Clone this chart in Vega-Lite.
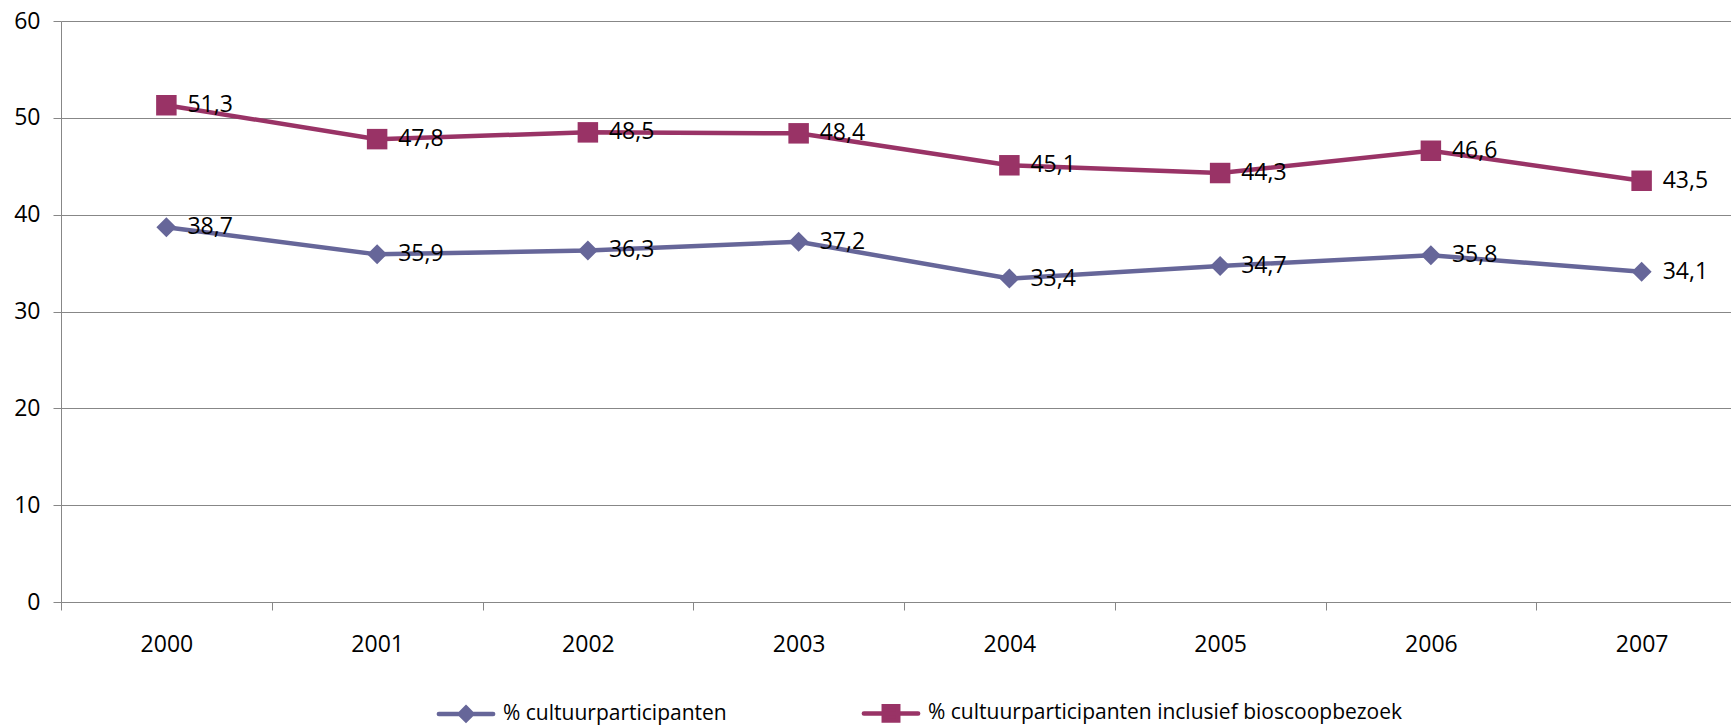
{
  "$schema": "https://vega.github.io/schema/vega-lite/v6.json",
  "autosize": {"type": "none"},
  "padding": {"left": 61, "top": 21, "right": 0, "bottom": 126},
  "width": 1670,
  "height": 581,
  "background": "white",
  "config": {
    "view": {"stroke": null},
    "locale": {"number": {"decimal": ",", "thousands": ".", "grouping": [3], "currency": ["€", ""]}},
    "font": "Open Sans"
  },
  "data": {
    "values": [
      {"year": "2000", "series": "% cultuurparticipanten", "value": 38.7},
      {"year": "2001", "series": "% cultuurparticipanten", "value": 35.9},
      {"year": "2002", "series": "% cultuurparticipanten", "value": 36.3},
      {"year": "2003", "series": "% cultuurparticipanten", "value": 37.2},
      {"year": "2004", "series": "% cultuurparticipanten", "value": 33.4},
      {"year": "2005", "series": "% cultuurparticipanten", "value": 34.7},
      {"year": "2006", "series": "% cultuurparticipanten", "value": 35.8},
      {"year": "2007", "series": "% cultuurparticipanten", "value": 34.1},
      {"year": "2000", "series": "% cultuurparticipanten inclusief bioscoopbezoek", "value": 51.3},
      {"year": "2001", "series": "% cultuurparticipanten inclusief bioscoopbezoek", "value": 47.8},
      {"year": "2002", "series": "% cultuurparticipanten inclusief bioscoopbezoek", "value": 48.5},
      {"year": "2003", "series": "% cultuurparticipanten inclusief bioscoopbezoek", "value": 48.4},
      {"year": "2004", "series": "% cultuurparticipanten inclusief bioscoopbezoek", "value": 45.1},
      {"year": "2005", "series": "% cultuurparticipanten inclusief bioscoopbezoek", "value": 44.3},
      {"year": "2006", "series": "% cultuurparticipanten inclusief bioscoopbezoek", "value": 46.6},
      {"year": "2007", "series": "% cultuurparticipanten inclusief bioscoopbezoek", "value": 43.5}
    ]
  },
  "encoding": {
    "x": {
      "field": "year",
      "type": "ordinal",
      "scale": {"type": "band", "range": [0, 1686], "paddingInner": 0, "paddingOuter": 0},
      "axis": {
        "title": null,
        "labelAngle": 0,
        "tickBand": "extent",
        "tickSize": 8,
        "tickColor": "#878787",
        "domainColor": "#878787",
        "labelFont": "Open Sans",
        "labelFontSize": 23,
        "labelColor": "black",
        "labelPadding": 23,
        "grid": false
      }
    },
    "y": {
      "field": "value",
      "type": "quantitative",
      "scale": {"domain": [0, 60], "nice": false, "zero": true},
      "axis": {
        "title": null,
        "values": [0, 10, 20, 30, 40, 50, 60],
        "grid": true,
        "gridColor": "#878787",
        "tickSize": 8,
        "tickColor": "#878787",
        "domainColor": "#878787",
        "labelFont": "Open Sans",
        "labelFontSize": 23,
        "labelColor": "black",
        "labelPadding": 13
      }
    },
    "color": {
      "field": "series",
      "type": "nominal",
      "scale": {
        "domain": ["% cultuurparticipanten", "% cultuurparticipanten inclusief bioscoopbezoek"],
        "range": ["#666699", "#993366"]
      },
      "legend": {
        "title": null,
        "orient": "none",
        "legendX": 373,
        "legendY": 660,
        "direction": "horizontal",
        "padding": 0,
        "symbolSize": 3481,
        "symbolStrokeWidth": 4.5,
        "labelOffset": 5,
        "columnPadding": 127,
        "labelFont": "Open Sans",
        "labelFontSize": 21,
        "labelColor": "black",
        "labelLimit": 1000,
        "encode": {
          "symbols": {
            "update": {
              "shape": {"signal": "datum.value === '% cultuurparticipanten' ? 'M-0.92,0H0.92 M0,-0.21L0.21,0L0,0.21L-0.21,0Z' : 'M-0.92,0H0.92 M-0.245,-0.245H0.245V0.245H-0.245Z'"},
              "fill": {"signal": "scale('color', datum.value)"},
              "stroke": {"signal": "scale('color', datum.value)"},
              "strokeWidth": {"value": 4.5},
              "strokeCap": {"value": "round"},
              "strokeJoin": {"value": "miter"},
              "opacity": {"value": 1},
              "fillOpacity": {"value": 1}
            }
          }
        }
      }
    }
  },
  "layer": [
    {
      "mark": {"type": "line", "strokeWidth": 4.5}
    },
    {
      "transform": [{"filter": "datum.series === '% cultuurparticipanten'"}],
      "mark": {"type": "point", "filled": true, "opacity": 1, "size": 400, "shape": "diamond"}
    },
    {
      "transform": [{"filter": "datum.series !== '% cultuurparticipanten'"}],
      "mark": {"type": "point", "filled": true, "opacity": 1, "size": 420, "shape": "square"}
    },
    {
      "mark": {"type": "text", "align": "left", "baseline": "middle", "dx": 21, "font": "Open Sans", "fontSize": 23, "color": "black"},
      "encoding": {
        "color": {"value": "black"},
        "text": {"field": "value", "type": "quantitative", "format": ".1f"}
      }
    }
  ]
}
